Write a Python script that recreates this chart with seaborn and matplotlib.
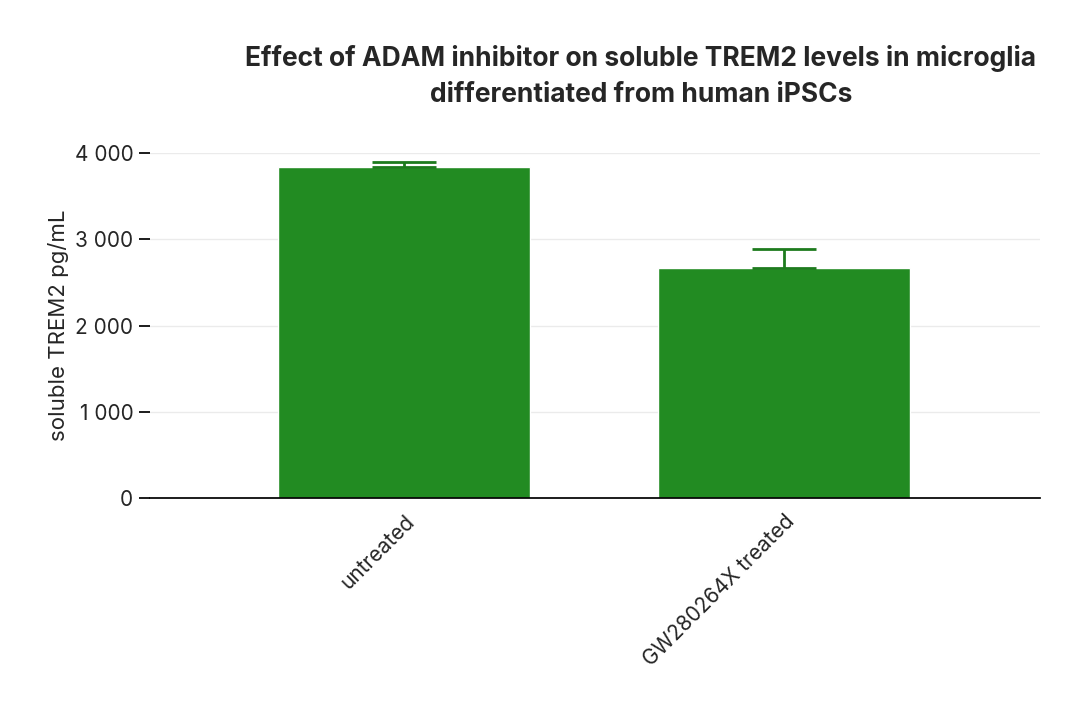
import matplotlib
matplotlib.use("Agg")
import matplotlib.pyplot as plt
import seaborn as sns
import pandas as pd
from matplotlib.ticker import FuncFormatter

categories = ["untreated", "GW280264X treated"]
values = [3840, 2670]
err_up = [55, 220]

sns.set_theme(style="white")
plt.rcParams['font.family'] = ['Inter', 'DejaVu Sans']

fig = plt.figure(figsize=(10.8, 7.27), dpi=100)
ax = fig.add_axes([0.1389, 0.315, 0.824, 0.4745])
df = pd.DataFrame({"cat": categories, "val": values})
sns.barplot(data=df, x="cat", y="val", color="#228B22", saturation=1, width=0.663, ax=ax, errorbar=None)
ax.errorbar(range(len(categories)), values, yerr=[[0]*len(values), err_up], fmt="none",
            ecolor="#1E7B1E", elinewidth=2, capsize=23, capthick=2)
ax.set_xlim(-0.668, 1.674)
ax.set_ylim(0, 4000)
ax.set_yticks([0, 1000, 2000, 3000, 4000])
ax.yaxis.set_major_formatter(FuncFormatter(lambda v, p: f"{int(v):,}".replace(",", " ")))
ax.grid(axis="y", color="#ebebeb", linewidth=1)
ax.set_axisbelow(True)
for s in ["top", "right", "left"]:
    ax.spines[s].set_visible(False)
ax.spines["bottom"].set_color("black")
ax.tick_params(axis="y", left=True, length=8, color="black", labelsize=15, pad=4)
ax.tick_params(axis="x", bottom=False, labelsize=15)
plt.setp(ax.get_xticklabels(), rotation=45, ha="right", rotation_mode="anchor")
ax.set_xlabel("")
ax.set_ylabel("soluble TREM2 pg/mL", fontsize=16)
fig.text(0.5935, 0.895, "Effect of ADAM inhibitor on soluble TREM2 levels in microglia\ndifferentiated from human iPSCs",
         ha="center", va="center", fontsize=19, fontweight="bold", linespacing=1.5)
fig.savefig("out.png", dpi=100)
